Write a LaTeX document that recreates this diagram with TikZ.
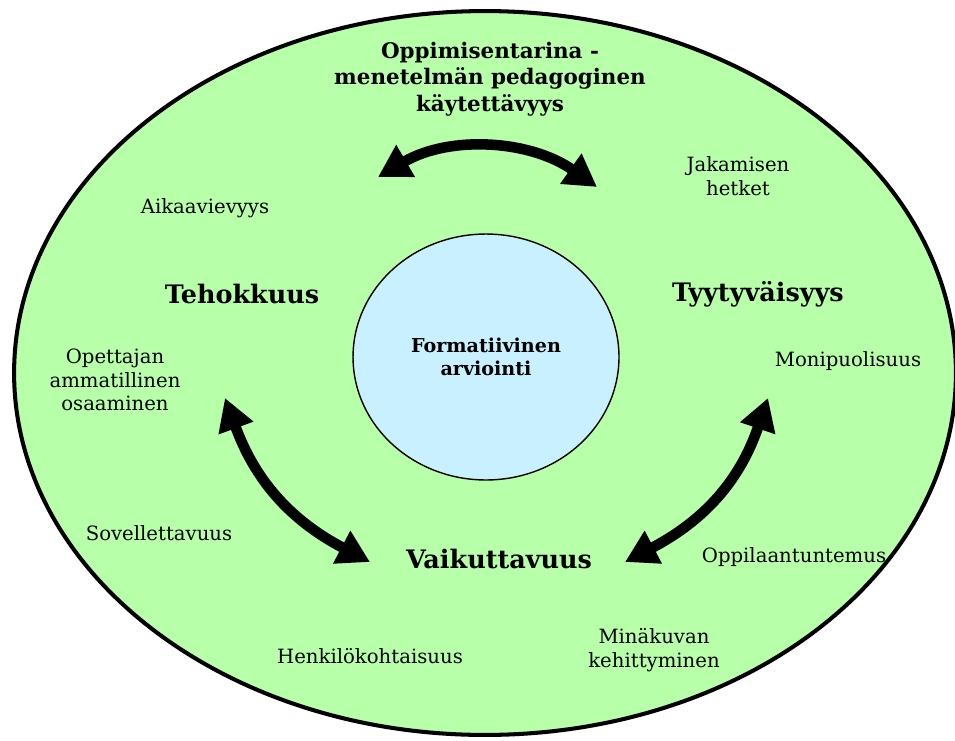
\documentclass[tikz,border=0pt]{standalone}
\usepackage{fontspec}
\setmainfont{DejaVu Serif}
\usetikzlibrary{arrows.meta,shapes.geometric}
\definecolor{fieldgreen}{RGB}{184,255,170}
\definecolor{centreblue}{RGB}{200,240,255}
\tikzset{
	sublabel/.style={align=center, font=\fontsize{11.2}{13.5}\selectfont, inner sep=0pt},
	mainlabel/.style={align=center, font=\fontsize{14.5}{16.5}\selectfont\bfseries, inner sep=0pt},
	toplabel/.style={align=center, font=\fontsize{12.2}{15}\selectfont\bfseries, inner sep=0pt},
	twoway/.style={line width=6pt, {Triangle[length=0.64cm,width=0.7cm]}-{Triangle[length=0.64cm,width=0.7cm]}},
}

\begin{document}
\begin{tikzpicture}[x=0.02cm, y=-0.02cm]
		%%%%% START %%%%%
		\useasboundingbox (0, 0) rectangle (955, 740);
		\draw[fill=fieldgreen, line width=2.3pt] (485, 373) ellipse [x radius=9.42cm, y radius=7.24cm];
		
		\node[ellipse, draw, line width=0.8pt, fill=centreblue, minimum width=5.32cm, minimum height=4.92cm, align=center,
			font=\fontsize{10.9}{13}\selectfont\bfseries] (centre) at (486, 357) {Formatiivinen\\arviointi};
		
		\node[toplabel] (usability) at (490, 79) {Oppimisentarina -\\menetelmän pedagoginen\\käytettävyys};
		\node[mainlabel] (efficiency) at (242, 294) {Tehokkuus};
		\node[mainlabel] (satisfaction) at (758, 294) {Tyytyväisyys};
		\node[mainlabel] (impact) at (499, 559) {Vaikuttavuus};
		
		\node[sublabel] (sharing) at (738, 176) {Jakamisen\\hetket};
		\node[sublabel] (timecost) at (205, 208) {Aikaavievyys};
		\node[sublabel] (teacher) at (115, 380) {Opettajan\\ammatillinen\\osaaminen};
		\node[sublabel] (variety) at (848, 361) {Monipuolisuus};
		\node[sublabel] (applicability) at (159, 533) {Sovellettavuus};
		\node[sublabel] (pupilknowledge) at (794, 557) {Oppilaantuntemus};
		\node[sublabel] (personal) at (370, 656) {Henkilökohtaisuus};
		\node[sublabel] (selfimage) at (654, 650) {Minäkuvan\\kehittyminen};
		
		\coordinate (topL) at (378, 177);
		\coordinate (topR) at (597, 187);
		\coordinate (leftT) at (225, 398);
		\coordinate (leftB) at (370, 562);
		\coordinate (rightT) at (768, 398);
		\coordinate (rightB) at (625, 562);
		
		\draw[twoway] (topL) .. controls (450, 135) and (530, 140) .. (topR);
		\draw[twoway] (leftT) .. controls (255, 480) and (290, 520) .. (leftB);
		\draw[twoway] (rightT) .. controls (740, 480) and (705, 520) .. (rightB);
		%%%%% END %%%%%
\end{tikzpicture}
\end{document}
